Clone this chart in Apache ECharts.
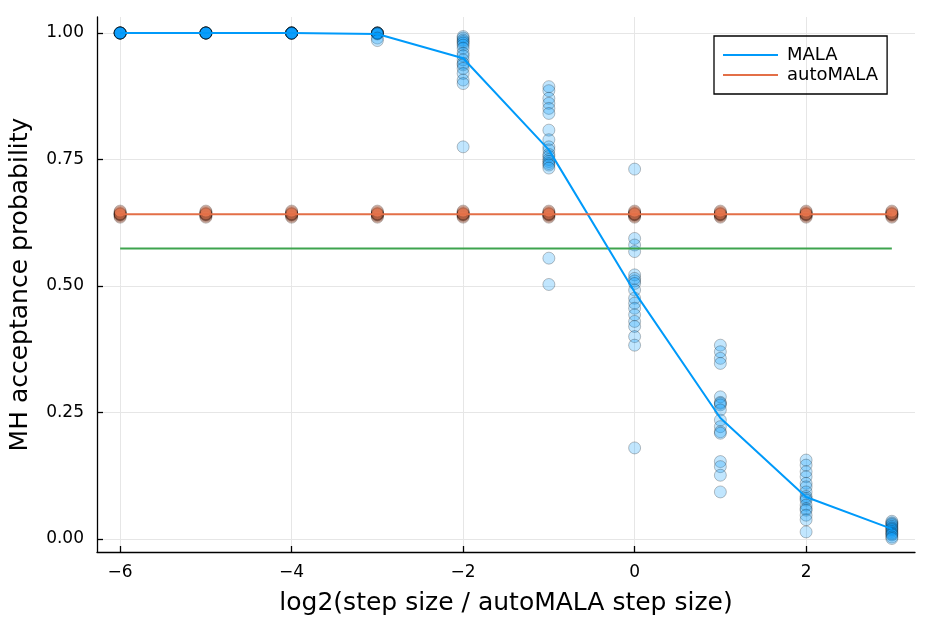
<!DOCTYPE html>
<html>
<head>
<meta charset="utf-8">
<script src="https://cdn.jsdelivr.net/npm/echarts@6/dist/echarts.min.js"></script>
<style>
html,body{margin:0;padding:0;background:#fff;}
#chart{width:934px;height:623px;}
</style>
</head>
<body>
<div id="chart"></div>
<script>
const xTicks = [-6, -4, -2, 0, 2];
const yTicks = [0, 0.25, 0.5, 0.75, 1.0];
const stepLevels = [-6, -5, -4, -3, -2, -1, 0, 1, 2, 3];
const malaMean = [1.0, 1.0, 1.0, 0.998, 0.950, 0.769, 0.488, 0.239, 0.083, 0.020];
const autoMean = [0.642, 0.642, 0.642, 0.642, 0.642, 0.642, 0.642, 0.642, 0.642, 0.642];
const greenLevel = 0.574;

const malaSamples_m6 = [1, 1, 1, 1, 1, 1, 1, 1, 1, 1];
const malaSamples_m5 = [1, 1, 1, 1, 1, 1, 1, 1, 1, 1];
const malaSamples_m4 = [1, 1, 1, 1, 1, 1, 1, 1, 1, 0.999];
const malaSamples_m3 = [1, 1, 1, 1, 1, 1, 0.999, 0.998, 0.99, 0.985];
const malaSamples_m2 = [0.993, 0.990, 0.986, 0.983, 0.980, 0.976, 0.970, 0.960, 0.955, 0.947, 0.940, 0.937, 0.930, 0.920, 0.907, 0.900, 0.775];
const malaSamples_m1 = [0.894, 0.886, 0.871, 0.861, 0.851, 0.841, 0.808, 0.789, 0.775, 0.769, 0.760, 0.756, 0.750, 0.746, 0.742, 0.739, 0.733, 0.555, 0.503];
const malaSamples_0 = [0.731, 0.594, 0.581, 0.568, 0.522, 0.515, 0.510, 0.505, 0.492, 0.476, 0.466, 0.456, 0.443, 0.430, 0.420, 0.400, 0.383, 0.180];
const malaSamples_1 = [0.383, 0.370, 0.357, 0.347, 0.281, 0.270, 0.268, 0.265, 0.255, 0.235, 0.222, 0.212, 0.209, 0.153, 0.143, 0.126, 0.093];
const malaSamples_2 = [0.156, 0.146, 0.133, 0.123, 0.110, 0.103, 0.093, 0.084, 0.080, 0.077, 0.067, 0.060, 0.057, 0.047, 0.038, 0.014];
const malaSamples_3 = [0.035, 0.032, 0.030, 0.028, 0.025, 0.022, 0.020, 0.018, 0.015, 0.012, 0.010, 0.008, 0.004, 0.001];
const autoSamples = [0.636, 0.638, 0.640, 0.641, 0.642, 0.642, 0.643, 0.644, 0.646, 0.648];

const malaSampleLists = [malaSamples_m6, malaSamples_m5, malaSamples_m4, malaSamples_m3, malaSamples_m2,
  malaSamples_m1, malaSamples_0, malaSamples_1, malaSamples_2, malaSamples_3];

const BLUE = '#009AFA', ORANGE = '#E36F47', GREEN = '#3EA44E';

const malaPts = [];
stepLevels.forEach((x, i) => malaSampleLists[i].forEach(v => malaPts.push([x, v])));
const autoPts = [];
stepLevels.forEach(x => autoSamples.forEach(v => autoPts.push([x, v])));

const chart = echarts.init(document.getElementById('chart'));
const fmtX = v => (v < 0 ? '\u2212' + Math.abs(v) : String(v));
chart.setOption({
  animation: false,
  backgroundColor: '#fff',
  textStyle: {fontFamily: 'DejaVu Sans'},
  grid: {left: 97, right: 19, top: 17, bottom: 71, containLabel: false},
  legend: {
    left: 714, top: 36,
    orient: 'vertical',
    data: ['MALA', 'autoMALA'],
    icon: 'rect', itemWidth: 55, itemHeight: 2, itemGap: 2,
    borderColor: '#000', borderWidth: 1.3, borderRadius: 0,
    padding: [10, 9, 10, 9],
    textStyle: {fontSize: 18, color: '#000', fontFamily: 'DejaVu Sans', padding: [0, 0, 0, 4]}
  },
  xAxis: {
    type: 'value', min: -6.27, max: 3.27,
    name: 'log2(step size / autoMALA step size)', nameLocation: 'middle', nameGap: 39,
    nameTextStyle: {fontSize: 25, color: '#000', fontFamily: 'DejaVu Sans'},
    axisLine: {show: true, onZero: false, lineStyle: {color: '#000', width: 1.3}},
    axisTick: {show: true, inside: true, length: 6, customValues: xTicks, lineStyle: {color: '#000', width: 1.3}},
    axisLabel: {customValues: xTicks, formatter: fmtX, fontSize: 17, color: '#000', margin: 12},
    splitLine: {show: true, customValues: xTicks, lineStyle: {color: '#e6e6e6', width: 1}}
  },
  yAxis: {
    type: 'value', min: -0.0257, max: 1.0316,
    name: 'MH acceptance probability', nameLocation: 'middle', nameGap: 64,
    nameTextStyle: {fontSize: 25, color: '#000', fontFamily: 'DejaVu Sans'},
    axisLine: {show: true, onZero: false, lineStyle: {color: '#000', width: 1.3}},
    axisTick: {show: true, inside: true, length: 6, customValues: yTicks, lineStyle: {color: '#000', width: 1.3}},
    axisLabel: {customValues: yTicks, formatter: v => v.toFixed(2), fontSize: 17, color: '#000', margin: 13},
    splitLine: {show: true, customValues: yTicks, lineStyle: {color: '#e6e6e6', width: 1}}
  },
  series: [
    {
      name: 'malaSamples', type: 'scatter', data: malaPts, symbolSize: 12, z: 2,
      itemStyle: {color: 'rgba(0,154,250,0.3)', borderColor: 'rgba(0,0,0,0.3)', borderWidth: 1}
    },
    {
      name: 'autoSamples', type: 'scatter', data: autoPts, symbolSize: 12, z: 2,
      itemStyle: {color: 'rgba(227,111,71,0.3)', borderColor: 'rgba(0,0,0,0.3)', borderWidth: 1}
    },
    {
      name: 'green', type: 'line', data: [[stepLevels[0], greenLevel], [stepLevels[stepLevels.length - 1], greenLevel]],
      symbol: 'none', z: 3, lineStyle: {color: GREEN, width: 2}, itemStyle: {color: GREEN}
    },
    {
      name: 'MALA', type: 'line', data: stepLevels.map((x, i) => [x, malaMean[i]]),
      symbol: 'none', z: 4, lineStyle: {color: BLUE, width: 2}, itemStyle: {color: BLUE}
    },
    {
      name: 'autoMALA', type: 'line', data: stepLevels.map((x, i) => [x, autoMean[i]]),
      symbol: 'none', z: 4, lineStyle: {color: ORANGE, width: 2}, itemStyle: {color: ORANGE}
    }
  ]
});
</script>
</body>
</html>
